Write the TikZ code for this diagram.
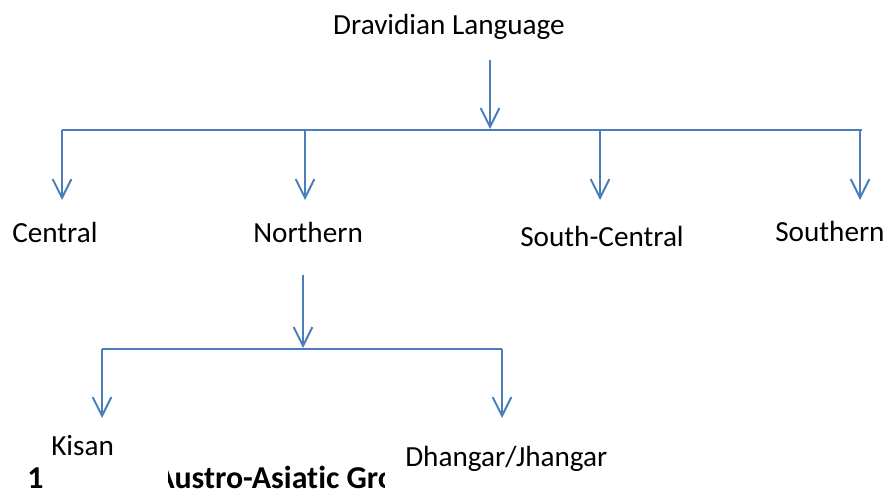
\documentclass[tikz,border=0pt]{standalone}
\usepackage{fontspec}
\setmainfont{Carlito}[Ligatures=NoCommon]
\usetikzlibrary{arrows.meta}
\definecolor{linkblue}{RGB}{74,126,187}

\begin{document}
\begin{tikzpicture}[x=0.75pt, y=-0.75pt,
	every node/.style={font=\fontsize{21.9}{26}\selectfont, inner sep=0pt},
	headfont/.style={font=\fontsize{23.9}{28}\selectfont\bfseries},
	link/.style={draw=linkblue, line width=1.5pt},
	drop/.style={link, -{Straight Barb[length=14pt, width=14pt, line width=1.5pt]}}]
	\useasboundingbox (0,0) rectangle (887,491);
	% root
	\node[anchor=base] (dravidian) at (449,35) {Dravidian Language};
	\coordinate (rootstart) at (490,60);
	\coordinate (rootend) at (490,129);
	\draw[drop] (rootstart) -- (rootend);
	\coordinate (barleft) at (62,130);
	\coordinate (barright) at (862,130);
	\draw[link] (barleft) -- (barright);
	\foreach \name/\x in {central/62, northern/305, scentral/600, southern/860} {
		\coordinate (\name top) at (\x,130);
		\coordinate (\name tip) at (\x,200);
		\draw[drop] (\name top) -- (\name tip);
	}
	% branches
	\node[anchor=base west] (central) at (12,243) {Central};
	\node[anchor=base west] (northern) at (253,243) {Northern};
	\node[anchor=base west] (southcentral) at (520,247) {South-Central};
	\node[anchor=base west] (southern) at (775,242) {Southern};
	% northern group
	\coordinate (northstart) at (303,275);
	\coordinate (northend) at (303,348);
	\draw[drop] (northstart) -- (northend);
	\coordinate (subleft) at (102,349);
	\coordinate (subright) at (502,349);
	\draw[link] (subleft) -- (subright);
	\foreach \name/\x in {kisan/102, dhangar/502} {
		\coordinate (\name top) at (\x,349);
		\coordinate (\name tip) at (\x,418);
		\draw[drop] (\name top) -- (\name tip);
	}
	\node[anchor=base west] (kisan) at (51,455) {Kisan};
	\node[anchor=base west] (dhangar) at (405,466) {Dhangar/Jhangar};
	% heading behind the chart
	\node[anchor=base west, headfont] (headnum) at (27,488) {1};
	\begin{scope}
		\clip (168,430) rectangle (384,491);
		\node[anchor=base west, headfont] (heading) at (155,488) {Austro-Asiatic Group};
	\end{scope}
\end{tikzpicture}
\end{document}
